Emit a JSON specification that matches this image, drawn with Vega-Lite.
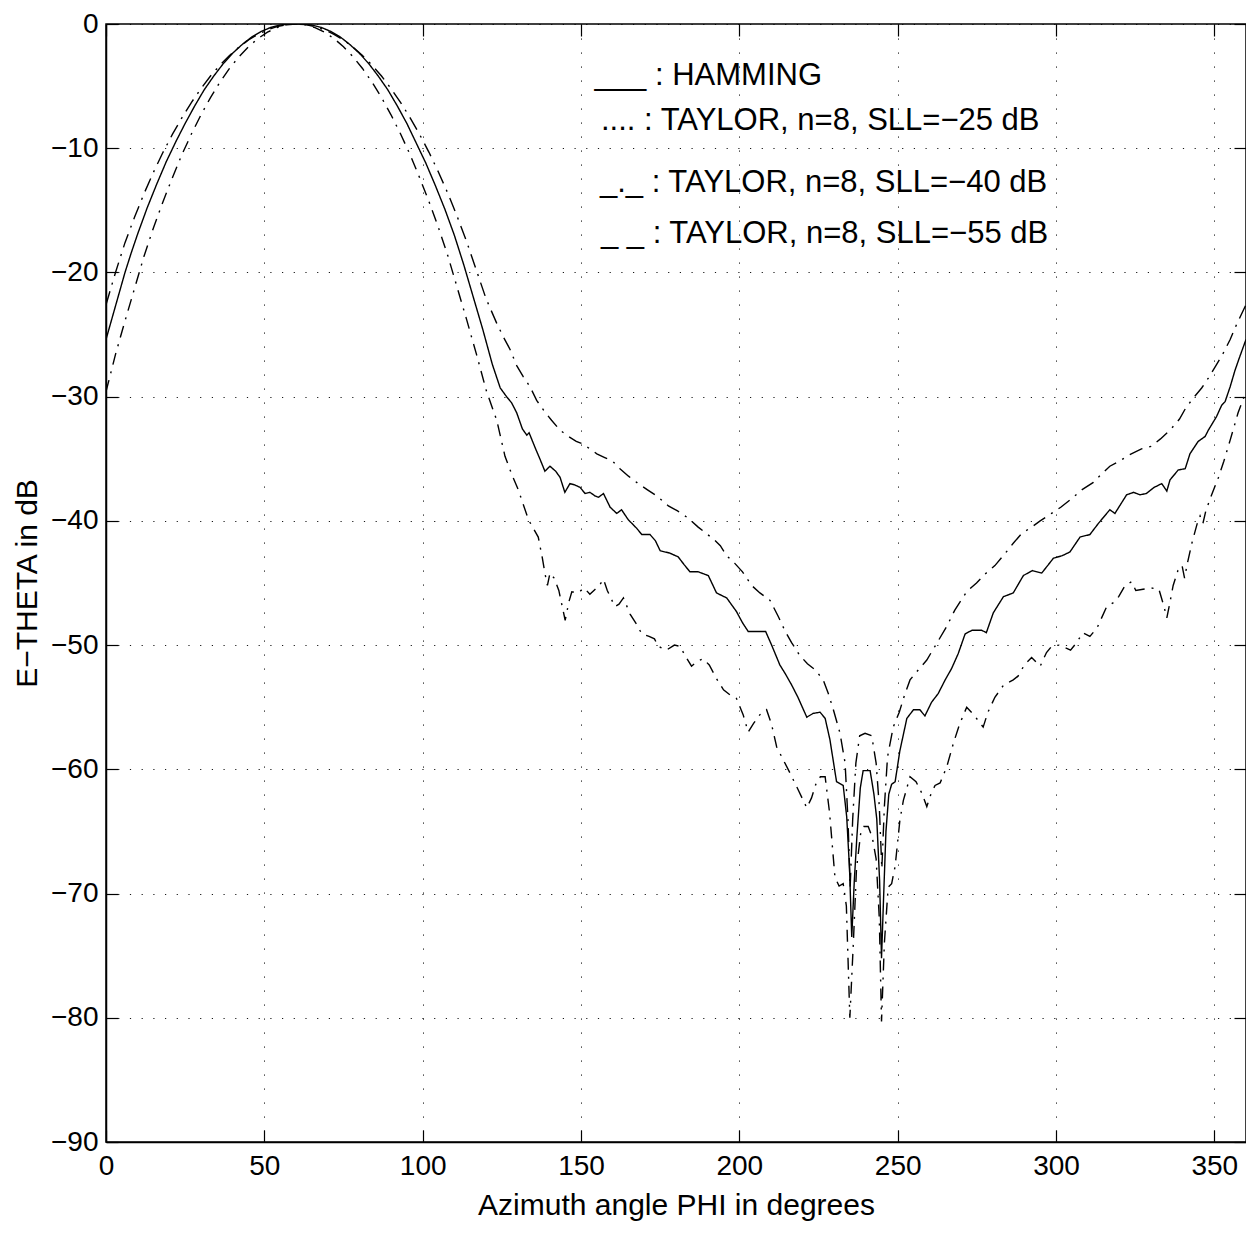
{
  "$schema": "https://vega.github.io/schema/vega-lite/v6.json",
  "width": 1140,
  "height": 1118,
  "autosize": {"type": "none"},
  "padding": {"left": 106, "top": 24, "right": 0, "bottom": 97},
  "background": "white",
  "config": {
    "font": "Liberation Sans",
    "view": {"stroke": "#000", "strokeWidth": 1.5},
    "axis": {
      "domainColor": "#000", "domainWidth": 1.5,
      "tickColor": "#000", "tickWidth": 1.2,
      "gridColor": "#000", "gridOpacity": 0.9, "gridWidth": 1,
      "labelFlush": false,
      "labelFont": "Liberation Sans", "labelFontSize": 28, "labelColor": "#000",
      "titleFont": "Liberation Sans", "titleFontSize": 30, "titleFontWeight": "normal", "titleColor": "#000"
    }
  },
  "datasets": {
    "curves": [
      {"series":"HAMMING","phi":0,"db":-25.4},{"series":"HAMMING","phi":2,"db":-23.6},{"series":"HAMMING","phi":4,"db":-21.8},{"series":"HAMMING","phi":6,"db":-20.0},{"series":"HAMMING","phi":8,"db":-18.4},{"series":"HAMMING","phi":10,"db":-16.9},{"series":"HAMMING","phi":13,"db":-14.8},{"series":"HAMMING","phi":16,"db":-12.9},{"series":"HAMMING","phi":19,"db":-11.1},{"series":"HAMMING","phi":22,"db":-9.5},{"series":"HAMMING","phi":25,"db":-8.0},{"series":"HAMMING","phi":28,"db":-6.6},{"series":"HAMMING","phi":31,"db":-5.3},{"series":"HAMMING","phi":34,"db":-4.2},{"series":"HAMMING","phi":37,"db":-3.2},{"series":"HAMMING","phi":40,"db":-2.35},{"series":"HAMMING","phi":43,"db":-1.65},{"series":"HAMMING","phi":46,"db":-1.05},{"series":"HAMMING","phi":49,"db":-0.6},{"series":"HAMMING","phi":52,"db":-0.28},{"series":"HAMMING","phi":55,"db":-0.08},{"series":"HAMMING","phi":58,"db":0},{"series":"HAMMING","phi":60,"db":0},{"series":"HAMMING","phi":62,"db":0},{"series":"HAMMING","phi":65,"db":-0.08},{"series":"HAMMING","phi":68,"db":-0.28},{"series":"HAMMING","phi":71,"db":-0.6},{"series":"HAMMING","phi":74,"db":-1.05},{"series":"HAMMING","phi":77,"db":-1.65},{"series":"HAMMING","phi":80,"db":-2.35},{"series":"HAMMING","phi":83,"db":-3.2},{"series":"HAMMING","phi":86,"db":-4.2},{"series":"HAMMING","phi":89,"db":-5.3},{"series":"HAMMING","phi":92,"db":-6.6},{"series":"HAMMING","phi":95,"db":-8.0},{"series":"HAMMING","phi":98,"db":-9.6},{"series":"HAMMING","phi":101,"db":-11.2},{"series":"HAMMING","phi":104,"db":-13.0},{"series":"HAMMING","phi":107,"db":-14.9},{"series":"HAMMING","phi":110,"db":-17.0},{"series":"HAMMING","phi":113,"db":-19.4},{"series":"HAMMING","phi":116,"db":-22.0},{"series":"HAMMING","phi":119,"db":-24.6},{"series":"HAMMING","phi":122,"db":-27.4},{"series":"HAMMING","phi":124.5,"db":-29.3},{"series":"HAMMING","phi":126.5,"db":-30.0},{"series":"HAMMING","phi":128.1,"db":-30.5},{"series":"HAMMING","phi":129.7,"db":-31.3},{"series":"HAMMING","phi":131.5,"db":-32.6},{"series":"HAMMING","phi":132.9,"db":-33.1},{"series":"HAMMING","phi":133.6,"db":-32.9},{"series":"HAMMING","phi":135.5,"db":-34.1},{"series":"HAMMING","phi":137,"db":-35.0},{"series":"HAMMING","phi":138.6,"db":-36.0},{"series":"HAMMING","phi":140.2,"db":-35.6},{"series":"HAMMING","phi":142,"db":-36.0},{"series":"HAMMING","phi":143.4,"db":-36.5},{"series":"HAMMING","phi":144.9,"db":-37.7},{"series":"HAMMING","phi":146.5,"db":-37.0},{"series":"HAMMING","phi":148,"db":-37.1},{"series":"HAMMING","phi":149.7,"db":-37.3},{"series":"HAMMING","phi":151.3,"db":-37.8},{"series":"HAMMING","phi":152.8,"db":-37.7},{"series":"HAMMING","phi":154.5,"db":-38.0},{"series":"HAMMING","phi":155.5,"db":-38.1},{"series":"HAMMING","phi":157.1,"db":-37.8},{"series":"HAMMING","phi":159.2,"db":-38.9},{"series":"HAMMING","phi":161.3,"db":-39.4},{"series":"HAMMING","phi":162.8,"db":-39.1},{"series":"HAMMING","phi":164.9,"db":-39.9},{"series":"HAMMING","phi":167.6,"db":-40.6},{"series":"HAMMING","phi":169.2,"db":-41.1},{"series":"HAMMING","phi":171.8,"db":-41.1},{"series":"HAMMING","phi":173.5,"db":-41.6},{"series":"HAMMING","phi":175,"db":-42.4},{"series":"HAMMING","phi":178.1,"db":-42.6},{"series":"HAMMING","phi":180.7,"db":-42.9},{"series":"HAMMING","phi":182.5,"db":-43.5},{"series":"HAMMING","phi":184.4,"db":-44.1},{"series":"HAMMING","phi":187,"db":-44.1},{"series":"HAMMING","phi":190.2,"db":-44.4},{"series":"HAMMING","phi":192.8,"db":-45.8},{"series":"HAMMING","phi":196,"db":-46.2},{"series":"HAMMING","phi":199.1,"db":-47.3},{"series":"HAMMING","phi":201,"db":-48.2},{"series":"HAMMING","phi":202.8,"db":-48.9},{"series":"HAMMING","phi":205.5,"db":-48.9},{"series":"HAMMING","phi":208.3,"db":-48.9},{"series":"HAMMING","phi":210.2,"db":-50.0},{"series":"HAMMING","phi":212.8,"db":-51.6},{"series":"HAMMING","phi":214.5,"db":-52.3},{"series":"HAMMING","phi":216.5,"db":-53.2},{"series":"HAMMING","phi":218.5,"db":-54.2},{"series":"HAMMING","phi":221.3,"db":-55.8},{"series":"HAMMING","phi":223.3,"db":-55.5},{"series":"HAMMING","phi":225.5,"db":-55.4},{"series":"HAMMING","phi":227.1,"db":-55.9},{"series":"HAMMING","phi":228.6,"db":-57.6},{"series":"HAMMING","phi":230.7,"db":-61.0},{"series":"HAMMING","phi":232.8,"db":-61.3},{"series":"HAMMING","phi":233.9,"db":-63.8},{"series":"HAMMING","phi":234.8,"db":-68},{"series":"HAMMING","phi":235.5,"db":-73.5},{"series":"HAMMING","phi":236.3,"db":-69},{"series":"HAMMING","phi":237.1,"db":-65.5},{"series":"HAMMING","phi":238.2,"db":-61.5},{"series":"HAMMING","phi":239.1,"db":-60.1},{"series":"HAMMING","phi":241.3,"db":-60.1},{"series":"HAMMING","phi":242.5,"db":-62},{"series":"HAMMING","phi":243.4,"db":-64},{"series":"HAMMING","phi":244.3,"db":-69},{"series":"HAMMING","phi":244.9,"db":-75.2},{"series":"HAMMING","phi":245.6,"db":-70},{"series":"HAMMING","phi":246.3,"db":-65},{"series":"HAMMING","phi":247.2,"db":-62},{"series":"HAMMING","phi":248.1,"db":-61.2},{"series":"HAMMING","phi":249.2,"db":-61},{"series":"HAMMING","phi":250.7,"db":-58.5},{"series":"HAMMING","phi":252.9,"db":-55.9},{"series":"HAMMING","phi":255,"db":-55.2},{"series":"HAMMING","phi":257,"db":-55.2},{"series":"HAMMING","phi":258.6,"db":-55.7},{"series":"HAMMING","phi":260.7,"db":-54.6},{"series":"HAMMING","phi":262.8,"db":-53.9},{"series":"HAMMING","phi":265,"db":-52.8},{"series":"HAMMING","phi":267,"db":-51.9},{"series":"HAMMING","phi":269.1,"db":-50.7},{"series":"HAMMING","phi":271.3,"db":-49.1},{"series":"HAMMING","phi":273.5,"db":-48.8},{"series":"HAMMING","phi":276.5,"db":-48.8},{"series":"HAMMING","phi":278,"db":-49.0},{"series":"HAMMING","phi":280.2,"db":-47.4},{"series":"HAMMING","phi":283.4,"db":-46.1},{"series":"HAMMING","phi":286.5,"db":-45.8},{"series":"HAMMING","phi":289.7,"db":-44.4},{"series":"HAMMING","phi":292.5,"db":-44.0},{"series":"HAMMING","phi":295.5,"db":-44.2},{"series":"HAMMING","phi":299.2,"db":-43.0},{"series":"HAMMING","phi":302,"db":-42.8},{"series":"HAMMING","phi":304.4,"db":-42.5},{"series":"HAMMING","phi":307.6,"db":-41.3},{"series":"HAMMING","phi":310.7,"db":-41.1},{"series":"HAMMING","phi":313.4,"db":-40.2},{"series":"HAMMING","phi":317,"db":-39.1},{"series":"HAMMING","phi":318.6,"db":-39.4},{"series":"HAMMING","phi":322.3,"db":-37.9},{"series":"HAMMING","phi":324.5,"db":-37.7},{"series":"HAMMING","phi":326.5,"db":-37.9},{"series":"HAMMING","phi":328.5,"db":-37.8},{"series":"HAMMING","phi":331,"db":-37.3},{"series":"HAMMING","phi":333.4,"db":-37.0},{"series":"HAMMING","phi":335,"db":-37.6},{"series":"HAMMING","phi":336,"db":-36.7},{"series":"HAMMING","phi":338.6,"db":-35.9},{"series":"HAMMING","phi":340.8,"db":-35.8},{"series":"HAMMING","phi":342.3,"db":-34.6},{"series":"HAMMING","phi":344.9,"db":-33.6},{"series":"HAMMING","phi":347.1,"db":-33.2},{"series":"HAMMING","phi":348.1,"db":-32.7},{"series":"HAMMING","phi":350.7,"db":-31.6},{"series":"HAMMING","phi":352.3,"db":-30.7},{"series":"HAMMING","phi":353.4,"db":-30.4},{"series":"HAMMING","phi":355,"db":-29.2},{"series":"HAMMING","phi":356.5,"db":-27.9},{"series":"HAMMING","phi":358,"db":-26.8},{"series":"HAMMING","phi":360,"db":-25.4},

      {"series":"SLL40","phi":0,"db":-22.6},{"series":"SLL40","phi":3,"db":-20.0},{"series":"SLL40","phi":6,"db":-17.6},{"series":"SLL40","phi":9,"db":-15.56},{"series":"SLL40","phi":12,"db":-13.66},{"series":"SLL40","phi":15,"db":-11.93},{"series":"SLL40","phi":18,"db":-10.33},{"series":"SLL40","phi":21,"db":-8.87},{"series":"SLL40","phi":24,"db":-7.53},{"series":"SLL40","phi":27,"db":-6.3},{"series":"SLL40","phi":30,"db":-5.2},{"series":"SLL40","phi":33,"db":-4.19},{"series":"SLL40","phi":36,"db":-3.31},{"series":"SLL40","phi":39,"db":-2.54},{"series":"SLL40","phi":42,"db":-1.86},{"series":"SLL40","phi":45,"db":-1.29},{"series":"SLL40","phi":48,"db":-0.83},{"series":"SLL40","phi":51,"db":-0.47},{"series":"SLL40","phi":54,"db":-0.21},{"series":"SLL40","phi":57,"db":-0.05},{"series":"SLL40","phi":60,"db":0},{"series":"SLL40","phi":63,"db":-0.05},{"series":"SLL40","phi":66,"db":-0.21},{"series":"SLL40","phi":69,"db":-0.47},{"series":"SLL40","phi":72,"db":-0.83},{"series":"SLL40","phi":75,"db":-1.29},{"series":"SLL40","phi":78,"db":-1.86},{"series":"SLL40","phi":81,"db":-2.54},{"series":"SLL40","phi":84,"db":-3.31},{"series":"SLL40","phi":87,"db":-4.19},{"series":"SLL40","phi":90,"db":-5.2},{"series":"SLL40","phi":93,"db":-6.3},{"series":"SLL40","phi":96,"db":-7.53},{"series":"SLL40","phi":99,"db":-8.87},{"series":"SLL40","phi":102,"db":-10.33},{"series":"SLL40","phi":105,"db":-11.93},{"series":"SLL40","phi":108,"db":-13.66},{"series":"SLL40","phi":111,"db":-15.56},{"series":"SLL40","phi":114,"db":-17.6},{"series":"SLL40","phi":117,"db":-19.85},{"series":"SLL40","phi":120,"db":-22.1},{"series":"SLL40","phi":123.4,"db":-24.1},{"series":"SLL40","phi":125.5,"db":-25.2},{"series":"SLL40","phi":127.6,"db":-26.2},{"series":"SLL40","phi":129.7,"db":-27.5},{"series":"SLL40","phi":131.8,"db":-28.4},{"series":"SLL40","phi":133.9,"db":-29.2},{"series":"SLL40","phi":136,"db":-30.3},{"series":"SLL40","phi":138.5,"db":-31.2},{"series":"SLL40","phi":140.7,"db":-31.9},{"series":"SLL40","phi":143.4,"db":-32.7},{"series":"SLL40","phi":146,"db":-33.2},{"series":"SLL40","phi":148.5,"db":-33.6},{"series":"SLL40","phi":150.5,"db":-33.8},{"series":"SLL40","phi":152.8,"db":-34.2},{"series":"SLL40","phi":155,"db":-34.6},{"series":"SLL40","phi":157.5,"db":-34.9},{"series":"SLL40","phi":160,"db":-35.2},{"series":"SLL40","phi":162.3,"db":-35.8},{"series":"SLL40","phi":165,"db":-36.4},{"series":"SLL40","phi":168.1,"db":-37.0},{"series":"SLL40","phi":171,"db":-37.5},{"series":"SLL40","phi":174,"db":-38.0},{"series":"SLL40","phi":177.6,"db":-38.8},{"series":"SLL40","phi":180.5,"db":-39.2},{"series":"SLL40","phi":184,"db":-39.8},{"series":"SLL40","phi":187,"db":-40.5},{"series":"SLL40","phi":189.5,"db":-41.0},{"series":"SLL40","phi":192,"db":-41.5},{"series":"SLL40","phi":194,"db":-42.0},{"series":"SLL40","phi":196,"db":-42.8},{"series":"SLL40","phi":198.5,"db":-43.4},{"series":"SLL40","phi":201,"db":-44.1},{"series":"SLL40","phi":203.9,"db":-45.2},{"series":"SLL40","phi":206.5,"db":-45.8},{"series":"SLL40","phi":209.7,"db":-46.4},{"series":"SLL40","phi":212.3,"db":-47.7},{"series":"SLL40","phi":214.5,"db":-48.9},{"series":"SLL40","phi":216.5,"db":-49.8},{"series":"SLL40","phi":219,"db":-50.8},{"series":"SLL40","phi":221.5,"db":-51.5},{"series":"SLL40","phi":224,"db":-52.0},{"series":"SLL40","phi":226.5,"db":-52.8},{"series":"SLL40","phi":228.1,"db":-53.9},{"series":"SLL40","phi":229.7,"db":-55.2},{"series":"SLL40","phi":231.8,"db":-57.1},{"series":"SLL40","phi":233.4,"db":-59.5},{"series":"SLL40","phi":234.3,"db":-64},{"series":"SLL40","phi":235,"db":-69.5},{"series":"SLL40","phi":235.8,"db":-64},{"series":"SLL40","phi":236.8,"db":-59.5},{"series":"SLL40","phi":238,"db":-57.3},{"series":"SLL40","phi":239.7,"db":-57.1},{"series":"SLL40","phi":241.8,"db":-57.3},{"series":"SLL40","phi":243.2,"db":-59.5},{"series":"SLL40","phi":244.2,"db":-63},{"series":"SLL40","phi":245,"db":-68},{"series":"SLL40","phi":245.8,"db":-63},{"series":"SLL40","phi":246.8,"db":-59},{"series":"SLL40","phi":248.6,"db":-56.6},{"series":"SLL40","phi":250.5,"db":-55.4},{"series":"SLL40","phi":252.2,"db":-54.0},{"series":"SLL40","phi":253.9,"db":-52.8},{"series":"SLL40","phi":256.5,"db":-52.0},{"series":"SLL40","phi":259.2,"db":-51.2},{"series":"SLL40","phi":262,"db":-50.0},{"series":"SLL40","phi":265.5,"db":-48.5},{"series":"SLL40","phi":268,"db":-47.2},{"series":"SLL40","phi":271.8,"db":-45.7},{"series":"SLL40","phi":274.9,"db":-45.0},{"series":"SLL40","phi":277.5,"db":-44.3},{"series":"SLL40","phi":280.7,"db":-43.6},{"series":"SLL40","phi":284,"db":-42.6},{"series":"SLL40","phi":286.5,"db":-41.8},{"series":"SLL40","phi":289.2,"db":-41.0},{"series":"SLL40","phi":292.3,"db":-40.5},{"series":"SLL40","phi":295,"db":-40.0},{"series":"SLL40","phi":298.6,"db":-39.4},{"series":"SLL40","phi":301.5,"db":-38.9},{"series":"SLL40","phi":305,"db":-38.2},{"series":"SLL40","phi":308.1,"db":-37.5},{"series":"SLL40","phi":311.8,"db":-36.9},{"series":"SLL40","phi":314.5,"db":-36.2},{"series":"SLL40","phi":317,"db":-35.6},{"series":"SLL40","phi":320,"db":-35.2},{"series":"SLL40","phi":323,"db":-34.7},{"series":"SLL40","phi":327,"db":-34.2},{"series":"SLL40","phi":330,"db":-34.0},{"series":"SLL40","phi":333,"db":-33.4},{"series":"SLL40","phi":336,"db":-32.7},{"series":"SLL40","phi":339,"db":-31.8},{"series":"SLL40","phi":341,"db":-30.9},{"series":"SLL40","phi":343.4,"db":-30.1},{"series":"SLL40","phi":346,"db":-29.3},{"series":"SLL40","phi":348.1,"db":-28.5},{"series":"SLL40","phi":350.5,"db":-27.5},{"series":"SLL40","phi":352.8,"db":-26.5},{"series":"SLL40","phi":355,"db":-25.4},{"series":"SLL40","phi":357,"db":-24.2},{"series":"SLL40","phi":360,"db":-22.6},

      {"series":"SLL55","phi":0,"db":-29.6},{"series":"SLL55","phi":3,"db":-26.6},{"series":"SLL55","phi":6,"db":-23.9},{"series":"SLL55","phi":9,"db":-21.3},{"series":"SLL55","phi":12,"db":-18.7},{"series":"SLL55","phi":15,"db":-16.4},{"series":"SLL55","phi":18,"db":-14.3},{"series":"SLL55","phi":21,"db":-12.35},{"series":"SLL55","phi":24,"db":-10.5},{"series":"SLL55","phi":27,"db":-8.84},{"series":"SLL55","phi":30,"db":-7.31},{"series":"SLL55","phi":33,"db":-5.92},{"series":"SLL55","phi":36,"db":-4.68},{"series":"SLL55","phi":39,"db":-3.58},{"series":"SLL55","phi":42,"db":-2.63},{"series":"SLL55","phi":45,"db":-1.83},{"series":"SLL55","phi":48,"db":-1.17},{"series":"SLL55","phi":51,"db":-0.66},{"series":"SLL55","phi":54,"db":-0.29},{"series":"SLL55","phi":57,"db":-0.07},{"series":"SLL55","phi":60,"db":0},{"series":"SLL55","phi":63,"db":-0.07},{"series":"SLL55","phi":66,"db":-0.29},{"series":"SLL55","phi":69,"db":-0.66},{"series":"SLL55","phi":72,"db":-1.17},{"series":"SLL55","phi":75,"db":-1.83},{"series":"SLL55","phi":78,"db":-2.63},{"series":"SLL55","phi":81,"db":-3.58},{"series":"SLL55","phi":84,"db":-4.68},{"series":"SLL55","phi":87,"db":-5.92},{"series":"SLL55","phi":90,"db":-7.31},{"series":"SLL55","phi":93,"db":-8.84},{"series":"SLL55","phi":96,"db":-10.5},{"series":"SLL55","phi":99,"db":-12.35},{"series":"SLL55","phi":102,"db":-14.3},{"series":"SLL55","phi":105,"db":-16.4},{"series":"SLL55","phi":108,"db":-18.7},{"series":"SLL55","phi":111,"db":-21.3},{"series":"SLL55","phi":114,"db":-23.9},{"series":"SLL55","phi":117,"db":-26.6},{"series":"SLL55","phi":120.2,"db":-29.6},{"series":"SLL55","phi":123.4,"db":-31.9},{"series":"SLL55","phi":126,"db":-34.8},{"series":"SLL55","phi":128.2,"db":-36.3},{"series":"SLL55","phi":130.2,"db":-37.5},{"series":"SLL55","phi":133.4,"db":-39.9},{"series":"SLL55","phi":136.5,"db":-41.3},{"series":"SLL55","phi":137.8,"db":-43},{"series":"SLL55","phi":138.6,"db":-44.2},{"series":"SLL55","phi":139.4,"db":-45.2},{"series":"SLL55","phi":140.2,"db":-44.2},{"series":"SLL55","phi":141.5,"db":-44.6},{"series":"SLL55","phi":143,"db":-45.6},{"series":"SLL55","phi":145,"db":-48.0},{"series":"SLL55","phi":146.2,"db":-46.5},{"series":"SLL55","phi":147.1,"db":-45.7},{"series":"SLL55","phi":149,"db":-45.8},{"series":"SLL55","phi":151,"db":-45.4},{"series":"SLL55","phi":152.8,"db":-45.9},{"series":"SLL55","phi":154.5,"db":-45.5},{"series":"SLL55","phi":155.8,"db":-45.2},{"series":"SLL55","phi":157.1,"db":-44.7},{"series":"SLL55","phi":158.3,"db":-45.6},{"series":"SLL55","phi":160.7,"db":-46.9},{"series":"SLL55","phi":162,"db":-46.7},{"series":"SLL55","phi":163.4,"db":-46.2},{"series":"SLL55","phi":165.5,"db":-47.5},{"series":"SLL55","phi":167.5,"db":-48.3},{"series":"SLL55","phi":169.2,"db":-49.1},{"series":"SLL55","phi":171.5,"db":-49.3},{"series":"SLL55","phi":173.2,"db":-49.5},{"series":"SLL55","phi":174.4,"db":-50.1},{"series":"SLL55","phi":177,"db":-50.4},{"series":"SLL55","phi":179.5,"db":-50.0},{"series":"SLL55","phi":181.3,"db":-50.1},{"series":"SLL55","phi":183,"db":-50.9},{"series":"SLL55","phi":184.9,"db":-51.7},{"series":"SLL55","phi":186.7,"db":-51.3},{"series":"SLL55","phi":188.6,"db":-51.1},{"series":"SLL55","phi":190.5,"db":-51.6},{"series":"SLL55","phi":192.8,"db":-52.7},{"series":"SLL55","phi":195,"db":-53.6},{"series":"SLL55","phi":197,"db":-54.0},{"series":"SLL55","phi":199.1,"db":-54.3},{"series":"SLL55","phi":201.2,"db":-55.6},{"series":"SLL55","phi":202.8,"db":-57},{"series":"SLL55","phi":204.5,"db":-56.3},{"series":"SLL55","phi":206.5,"db":-55.6},{"series":"SLL55","phi":208.6,"db":-55.2},{"series":"SLL55","phi":210.2,"db":-56.4},{"series":"SLL55","phi":211.8,"db":-58.2},{"series":"SLL55","phi":214,"db":-59.3},{"series":"SLL55","phi":216,"db":-60.3},{"series":"SLL55","phi":218.5,"db":-61.6},{"series":"SLL55","phi":221.3,"db":-63.1},{"series":"SLL55","phi":222.8,"db":-62.3},{"series":"SLL55","phi":224.4,"db":-61.0},{"series":"SLL55","phi":225.6,"db":-60.6},{"series":"SLL55","phi":227.1,"db":-60.6},{"series":"SLL55","phi":228.5,"db":-63.5},{"series":"SLL55","phi":230.2,"db":-68.7},{"series":"SLL55","phi":231.5,"db":-69.4},{"series":"SLL55","phi":232.8,"db":-69.2},{"series":"SLL55","phi":233.8,"db":-71},{"series":"SLL55","phi":234.9,"db":-80.0},{"series":"SLL55","phi":236,"db":-74},{"series":"SLL55","phi":237,"db":-68},{"series":"SLL55","phi":238.3,"db":-65.2},{"series":"SLL55","phi":239.3,"db":-64.6},{"series":"SLL55","phi":240.7,"db":-64.6},{"series":"SLL55","phi":242,"db":-65.5},{"series":"SLL55","phi":243.2,"db":-67.2},{"series":"SLL55","phi":244.2,"db":-72},{"series":"SLL55","phi":244.9,"db":-80.3},{"series":"SLL55","phi":245.8,"db":-74},{"series":"SLL55","phi":247,"db":-69.5},{"series":"SLL55","phi":248.1,"db":-69.2},{"series":"SLL55","phi":249.2,"db":-67.8},{"series":"SLL55","phi":250.7,"db":-64.1},{"series":"SLL55","phi":251.8,"db":-62.5},{"series":"SLL55","phi":253.9,"db":-60.6},{"series":"SLL55","phi":255.8,"db":-61},{"series":"SLL55","phi":257.6,"db":-61.9},{"series":"SLL55","phi":259.2,"db":-63.0},{"series":"SLL55","phi":260.5,"db":-62},{"series":"SLL55","phi":261.8,"db":-61.3},{"series":"SLL55","phi":263.4,"db":-61.1},{"series":"SLL55","phi":265.5,"db":-59.8},{"series":"SLL55","phi":267.6,"db":-57.9},{"series":"SLL55","phi":269.5,"db":-56.4},{"series":"SLL55","phi":271.8,"db":-55.0},{"series":"SLL55","phi":274,"db":-55.6},{"series":"SLL55","phi":277,"db":-56.6},{"series":"SLL55","phi":278.5,"db":-55.4},{"series":"SLL55","phi":280.7,"db":-54.2},{"series":"SLL55","phi":283.5,"db":-53.2},{"series":"SLL55","phi":286.5,"db":-52.8},{"series":"SLL55","phi":288,"db":-52.5},{"series":"SLL55","phi":290,"db":-51.6},{"series":"SLL55","phi":292.3,"db":-51.0},{"series":"SLL55","phi":295,"db":-51.7},{"series":"SLL55","phi":297,"db":-50.6},{"series":"SLL55","phi":298.6,"db":-50.1},{"series":"SLL55","phi":301,"db":-50.0},{"series":"SLL55","phi":304.6,"db":-50.4},{"series":"SLL55","phi":306.5,"db":-49.8},{"series":"SLL55","phi":308.5,"db":-49.0},{"series":"SLL55","phi":310.7,"db":-49.3},{"series":"SLL55","phi":313,"db":-48.6},{"series":"SLL55","phi":316,"db":-46.9},{"series":"SLL55","phi":318,"db":-46.6},{"series":"SLL55","phi":319.8,"db":-46.1},{"series":"SLL55","phi":321.8,"db":-45.2},{"series":"SLL55","phi":323.9,"db":-44.9},{"series":"SLL55","phi":325.2,"db":-45.6},{"series":"SLL55","phi":327.5,"db":-45.5},{"series":"SLL55","phi":330,"db":-45.4},{"series":"SLL55","phi":332.5,"db":-45.5},{"series":"SLL55","phi":334,"db":-46.8},{"series":"SLL55","phi":335,"db":-47.8},{"series":"SLL55","phi":335.8,"db":-46.8},{"series":"SLL55","phi":337,"db":-45.2},{"series":"SLL55","phi":338.5,"db":-44.0},{"series":"SLL55","phi":339.8,"db":-43.6},{"series":"SLL55","phi":340.6,"db":-44.6},{"series":"SLL55","phi":341.5,"db":-43.4},{"series":"SLL55","phi":343,"db":-41.7},{"series":"SLL55","phi":344.5,"db":-40.3},{"series":"SLL55","phi":345.5,"db":-39.6},{"series":"SLL55","phi":346.4,"db":-40.2},{"series":"SLL55","phi":347.3,"db":-39.2},{"series":"SLL55","phi":349,"db":-38.0},{"series":"SLL55","phi":351.3,"db":-36.5},{"series":"SLL55","phi":353,"db":-35.2},{"series":"SLL55","phi":355,"db":-33.5},{"series":"SLL55","phi":357.5,"db":-31.3},{"series":"SLL55","phi":360,"db":-29.6}
    ]
  },
  "layer": [
    {
      "data": {"name": "curves"},
      "mark": {"type": "line", "color": "#000", "strokeWidth": 1.4, "clip": true},
      "encoding": {
        "x": {"field": "phi", "type": "quantitative",
          "scale": {"domain": [0, 360], "nice": false, "zero": false},
          "axis": {"orient": "bottom", "values": [0,50,100,150,200,250,300,350], "title": "Azimuth angle PHI in degrees",
            "grid": true, "gridDash": [1.2, 12.8], "tickSize": -12, "labelPadding": 22, "labelBaseline": "top",
            "titleX": 570, "titleY": 72, "titleBaseline": "alphabetic", "titleAlign": "center"}},
        "y": {"field": "db", "type": "quantitative",
          "scale": {"domain": [-90, 0], "nice": false, "zero": false},
          "axis": {"orient": "left", "values": [-90,-80,-70,-60,-50,-40,-30,-20,-10,0], "title": "E−THETA in dB",
            "grid": true, "gridDash": [1.2, 10.5], "tickSize": -12, "labelPadding": 20,
            "titleX": -70, "titleY": 559, "titleBaseline": "alphabetic", "titleAlign": "center", "titleAngle": -90}},
        "detail": {"field": "series"},
        "strokeDash": {"field": "series", "type": "nominal",
          "scale": {"domain": ["HAMMING", "SLL40", "SLL55"], "range": [[1, 0], [14, 7, 2, 7], [12, 7, 2, 7]]},
          "legend": null}
      }
    },
    {
      "data": {"values": [{}]},
      "mark": {"type": "text", "align": "left", "baseline": "alphabetic", "fontSize": 31, "font": "Liberation Sans", "color": "#000", "text": "___ : HAMMING"},
      "encoding": {
        "x": {"datum": 154.3, "type": "quantitative", "scale": {"domain": [0, 360], "nice": false, "zero": false},
          "axis": {"orient": "top", "values": [0,50,100,150,200,250,300,350], "labels": false, "grid": false, "domain": false, "title": null, "tickSize": -12}},
        "y": {"datum": -4.9, "type": "quantitative", "scale": {"domain": [-90, 0], "nice": false, "zero": false},
          "axis": {"orient": "right", "values": [-90,-80,-70,-60,-50,-40,-30,-20,-10,0], "labels": false, "grid": false, "domain": false, "title": null, "tickSize": -12}}
      }
    },
    {
      "data": {"values": [{}]},
      "mark": {"type": "text", "align": "left", "baseline": "alphabetic", "fontSize": 31, "font": "Liberation Sans", "color": "#000", "text": ".... :  TAYLOR, n=8, SLL=−25 dB"},
      "encoding": {
        "x": {"datum": 156.3, "type": "quantitative", "axis": null},
        "y": {"datum": -8.55, "type": "quantitative", "axis": null}
      }
    },
    {
      "data": {"values": [{}]},
      "mark": {"type": "text", "align": "left", "baseline": "alphabetic", "fontSize": 31, "font": "Liberation Sans", "color": "#000", "text": "_._ : TAYLOR, n=8, SLL=−40 dB"},
      "encoding": {
        "x": {"datum": 156.0, "type": "quantitative", "axis": null},
        "y": {"datum": -13.55, "type": "quantitative", "axis": null}
      }
    },
    {
      "data": {"values": [{}]},
      "mark": {"type": "text", "align": "left", "baseline": "alphabetic", "fontSize": 31, "font": "Liberation Sans", "color": "#000", "text": "_ _ : TAYLOR, n=8, SLL=−55 dB"},
      "encoding": {
        "x": {"datum": 156.3, "type": "quantitative", "axis": null},
        "y": {"datum": -17.65, "type": "quantitative", "axis": null}
      }
    }
  ],
  "resolve": {"axis": {"x": "independent", "y": "independent"}}
}
